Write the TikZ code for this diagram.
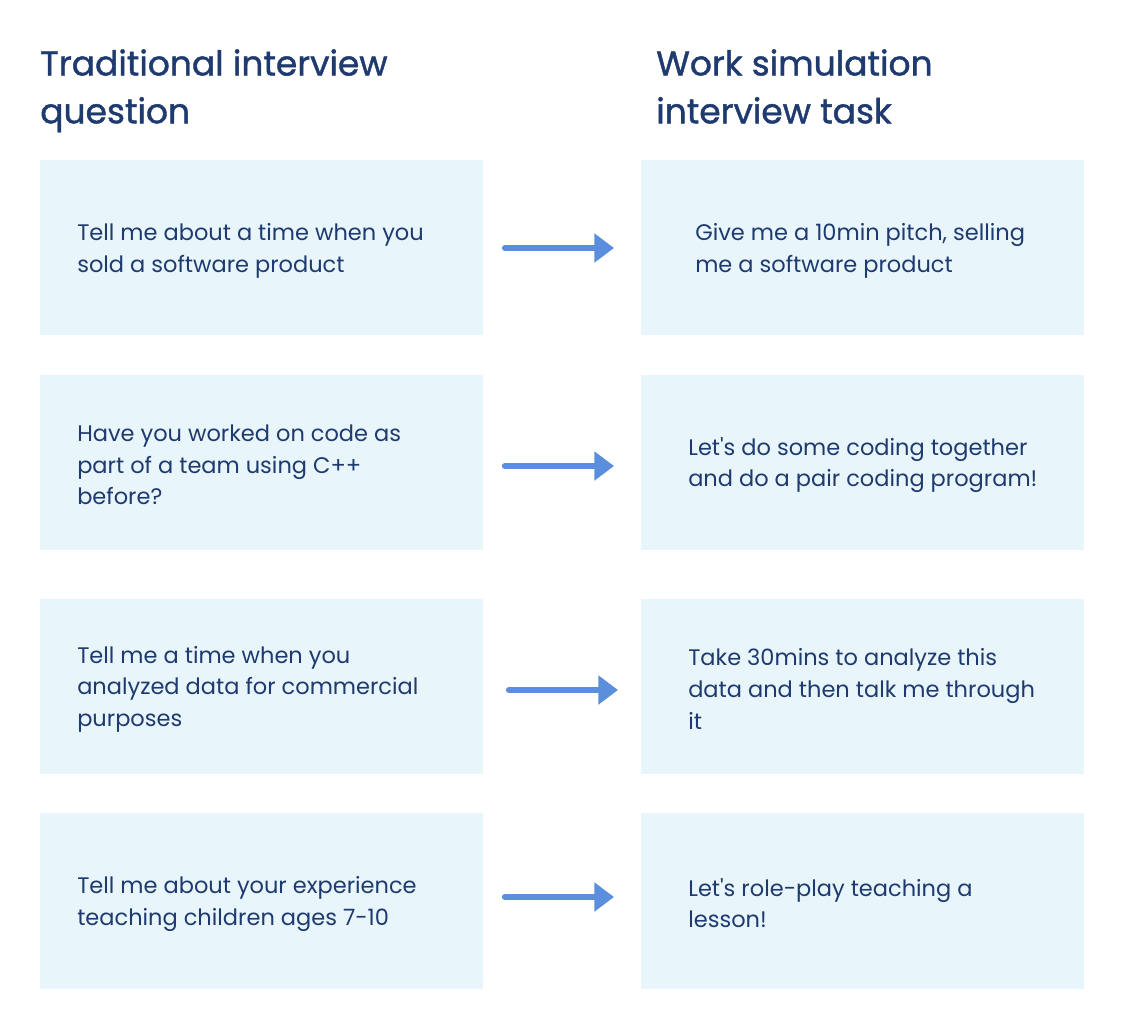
\documentclass[tikz,border=0pt]{standalone}
\usepackage{fontspec}
\setmainfont{Poppins}
\newfontfamily\headfont[FakeBold=1.2]{Poppins}
\definecolor{boxblue}{HTML}{E8F6FB}
\definecolor{navy}{HTML}{1E3A6E}
\definecolor{arrowblue}{HTML}{5B8EDC}
\tikzset{
	card/.style={fill=boxblue,draw=none},
	cardtext/.style={anchor=west,align=left,text=navy,inner sep=0pt,font=\fontsize{16}{22.5}\selectfont},
	heading/.style={anchor=north west,align=left,text=navy,inner sep=0pt,font=\headfont\fontsize{24.5}{34}\selectfont},
	swap/.style={-{Triangle[length=14pt,width=20pt]},line width=4.5pt,arrowblue,line cap=round}
}
\usetikzlibrary{arrows.meta}
\newcommand{\apos}{\textquotesingle}
\begin{document}
\begin{tikzpicture}[x=0.025cm,y=-0.025cm]
	\useasboundingbox[fill=white] (0,0) rectangle (1124,1028);
	\node[heading] (headL) at (40,49) {Traditional interview\\question};
	\node[heading] (headR) at (656,49) {Work simulation\\interview task};

	% question cards
	\fill[card] (40,160) rectangle (483,335);
	\fill[card] (40,375) rectangle (483,550);
	\fill[card] (40,599) rectangle (483,774);
	\fill[card] (40,813) rectangle (483,989);
	% task cards
	\fill[card] (641,160) rectangle (1084,335);
	\fill[card] (641,375) rectangle (1084,550);
	\fill[card] (641,599) rectangle (1084,774);
	\fill[card] (641,813) rectangle (1084,989);

	\node[cardtext] (q1) at (77,251) {Tell me about a time when you\\sold a software product};
	\node[cardtext] (q2) at (77,465) {Have you worked on code as\\part of a team using C++\\before?};
	\node[cardtext] (q3) at (77,689) {Tell me a time when you\\analyzed data for commercial\\purposes};
	\node[cardtext] (q4) at (77,904) {Tell me about your experience\\teaching children ages 7-10};

	\node[cardtext] (t1) at (695,251) {Give me a 10min pitch, selling\\me a software product};
	\node[cardtext] (t2) at (688,465) {Let\apos s do some coding together\\and do a pair coding program!};
	\node[cardtext] (t3) at (688,689) {Take 30mins to analyze this\\data and then talk me through\\it};
	\node[cardtext] (t4) at (688,903) {Let\apos s role-play teaching a\\lesson!};

	\coordinate (a1) at (505,248); \coordinate (b1) at (614,248);
	\coordinate (a2) at (505,466); \coordinate (b2) at (614,466);
	\coordinate (a3) at (509,690); \coordinate (b3) at (618,690);
	\coordinate (a4) at (505,897); \coordinate (b4) at (614,897);
	\draw[swap] (a1) -- (b1);
	\draw[swap] (a2) -- (b2);
	\draw[swap] (a3) -- (b3);
	\draw[swap] (a4) -- (b4);
\end{tikzpicture}
\end{document}
